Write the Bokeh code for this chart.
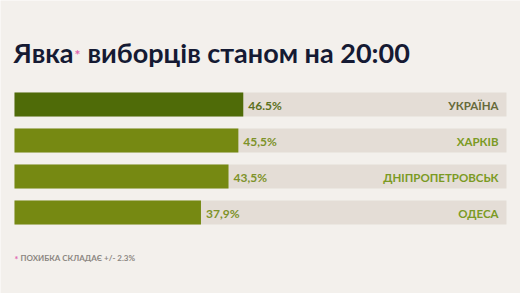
from bokeh.plotting import figure
from bokeh.models import Range1d, ColumnDataSource, Label
from bokeh.core.properties import value
from bokeh.embed import file_html
from bokeh.resources import INLINE

# Turnout at 20:00, per region
regions = ["УКРАЇНА", "ХАРКІВ", "ДНІПРОПЕТРОВСЬК", "ОДЕСА"]
turnout = [46.5, 45.5, 43.5, 37.9]
turnout_labels = ["46.5%", "45,5%", "43,5%", "37,9%"]

W, H = 520, 293
BG = "#f3f0ec"
FONT = "Lato"

# layout: bars run from pixel 14 to 506 for 0..100 %, rows every 36 px
left_px, right_px = 14, 506
ppu = (right_px - left_px) / 100.0
row0_px, row_step = 104, 36

p = figure(width=W, height=H, output_backend="svg", toolbar_location=None,
           min_border=0, x_axis_type=None, y_axis_type=None)
p.x_range = Range1d(-left_px / ppu, 100 + (W - right_px) / ppu)
p.y_range = Range1d((H - row0_px) / row_step, -row0_px / row_step)
p.grid.visible = False
p.outline_line_color = None
p.background_fill_color = BG
p.border_fill_color = BG

n = len(regions)
rows = list(range(n))
bar_colors = ["#4f6b08"] + ["#768912"] * (n - 1)
value_colors = ["#5b7021"] + ["#7d9229"] * (n - 1)
name_colors = ["#666a3a"] + ["#7b9a24"] * (n - 1)

src = ColumnDataSource(dict(
    row=rows, turnout=turnout, full=[100] * n, label=turnout_labels,
    region=regions, bar_color=bar_colors, value_color=value_colors,
    name_color=name_colors,
))

bar_h = 24 / row_step
p.hbar(y="row", left=0, right="full", height=bar_h, source=src,
       fill_color="#e4ddd6", line_color=None)
p.hbar(y="row", left=0, right="turnout", height=bar_h, source=src,
       fill_color="bar_color", line_color=None)

p.text(x="turnout", y="row", text="label", source=src, x_offset=5, y_offset=1,
       text_color="value_color", text_font=value(FONT), text_font_style="bold",
       text_font_size="12px", text_baseline="middle", text_align="left")
p.text(x="full", y="row", text="region", source=src, x_offset=-8, y_offset=1,
       text_color="name_color", text_font=value(FONT), text_font_style="bold",
       text_font_size="11.5px", text_baseline="middle", text_align="right")

# headline with a pink asterisk after the first word
p.add_layout(Label(x=13, y=H - 52, x_units="screen", y_units="screen",
                   text="Явка", text_font=FONT, text_font_style="bold",
                   text_font_size="27px", text_color="#151a33",
                   text_baseline="alphabetic"))
p.add_layout(Label(x=74, y=H - 54, x_units="screen", y_units="screen",
                   text="*", text_font=FONT, text_font_style="bold",
                   text_font_size="14px", text_color="#e066b0",
                   text_baseline="alphabetic"))
p.add_layout(Label(x=87, y=H - 52, x_units="screen", y_units="screen",
                   text="виборців станом на 20:00", text_font=FONT,
                   text_font_style="bold", text_font_size="27px",
                   text_color="#151a33", text_baseline="alphabetic"))

# footnote
p.add_layout(Label(x=14, y=H - 259, x_units="screen", y_units="screen",
                   text="*", text_font=FONT, text_font_style="bold",
                   text_font_size="9px", text_color="#e066b0",
                   text_baseline="alphabetic"))
p.add_layout(Label(x=20, y=H - 257, x_units="screen", y_units="screen",
                   text="ПОХИБКА СКЛАДАЄ +/- 2.3%", text_font=FONT,
                   text_font_style="bold", text_font_size="8px",
                   text_color="#8c8782", text_baseline="alphabetic"))

open("out.html", "w").write(file_html(p, INLINE))
